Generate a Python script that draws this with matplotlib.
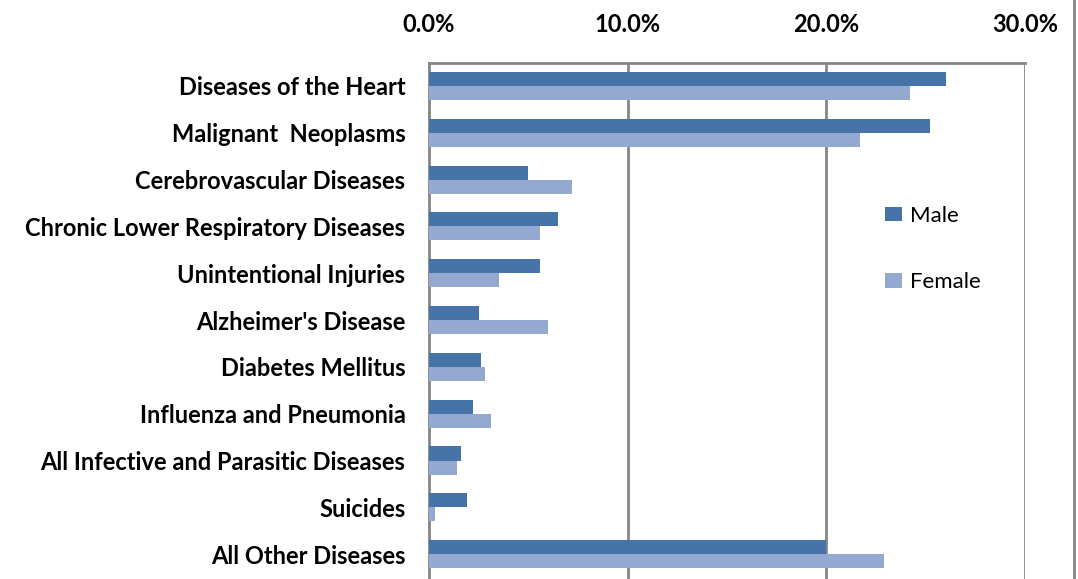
import numpy as np
import matplotlib.pyplot as plt
from matplotlib.lines import Line2D

categories = ['Diseases of the Heart', 'Malignant  Neoplasms', 'Cerebrovascular Diseases',
              'Chronic Lower Respiratory Diseases', 'Unintentional Injuries',
              "Alzheimer's Disease", 'Diabetes Mellitus', 'Influenza and Pneumonia',
              'All Infective and Parasitic Diseases', 'Suicides', 'All Other Diseases']
male = [26.0, 25.2, 5.0, 6.5, 5.6, 2.5, 2.6, 2.2, 1.6, 1.9, 20.0]
female = [24.2, 21.7, 7.2, 5.6, 3.5, 6.0, 2.8, 3.1, 1.4, 0.3, 22.9]
ticks = [0, 10, 20, 30]

male_color = '#4673A8'
female_color = '#94A9D0'
grid_color = '#868686'

plt.rcParams['font.family'] = ['Lato', 'DejaVu Sans']

fig = plt.figure(figsize=(10.78, 5.79), dpi=100)
ax = fig.add_axes([429/1078, 0.0, (1025-429)/1078, 1 - 62.5/579])

y = np.arange(len(categories))
h = 0.3
ax.barh(y - h/2, male, height=h, color=male_color, label='Male', zorder=3)
ax.barh(y + h/2, female, height=h, color=female_color, label='Female', zorder=3)

ax.set_ylim(len(categories) - 0.5 + 0.03, -0.5)
ax.set_xlim(0, 30)
ax.set_xticks(ticks)
ax.set_xticklabels([f'{t:.1f}%' for t in ticks], fontsize=17, fontweight='bold')
ax.xaxis.tick_top()
ax.tick_params(axis='x', length=0, pad=19)
ax.set_yticks(y)
ax.set_yticklabels(categories, fontsize=17, fontweight='bold')
ax.tick_params(axis='y', length=0, pad=17)

for t in ticks[1:]:
    ax.axvline(t, color=grid_color, lw=2, zorder=2)
for s in ['right', 'bottom']:
    ax.spines[s].set_visible(False)
for s in ['left', 'top']:
    ax.spines[s].set_color(grid_color)
    ax.spines[s].set_linewidth(2)

fig.add_artist(Line2D([1074/1078, 1074/1078], [0, 1], color=grid_color, lw=2))

ax.legend(loc='upper left', bbox_to_anchor=(0.75, 0.74), frameon=False,
          fontsize=16, handlelength=0.75, handleheight=0.6, handletextpad=0.4,
          labelspacing=2.1, borderaxespad=0)

fig.savefig('out.png', dpi=100)
